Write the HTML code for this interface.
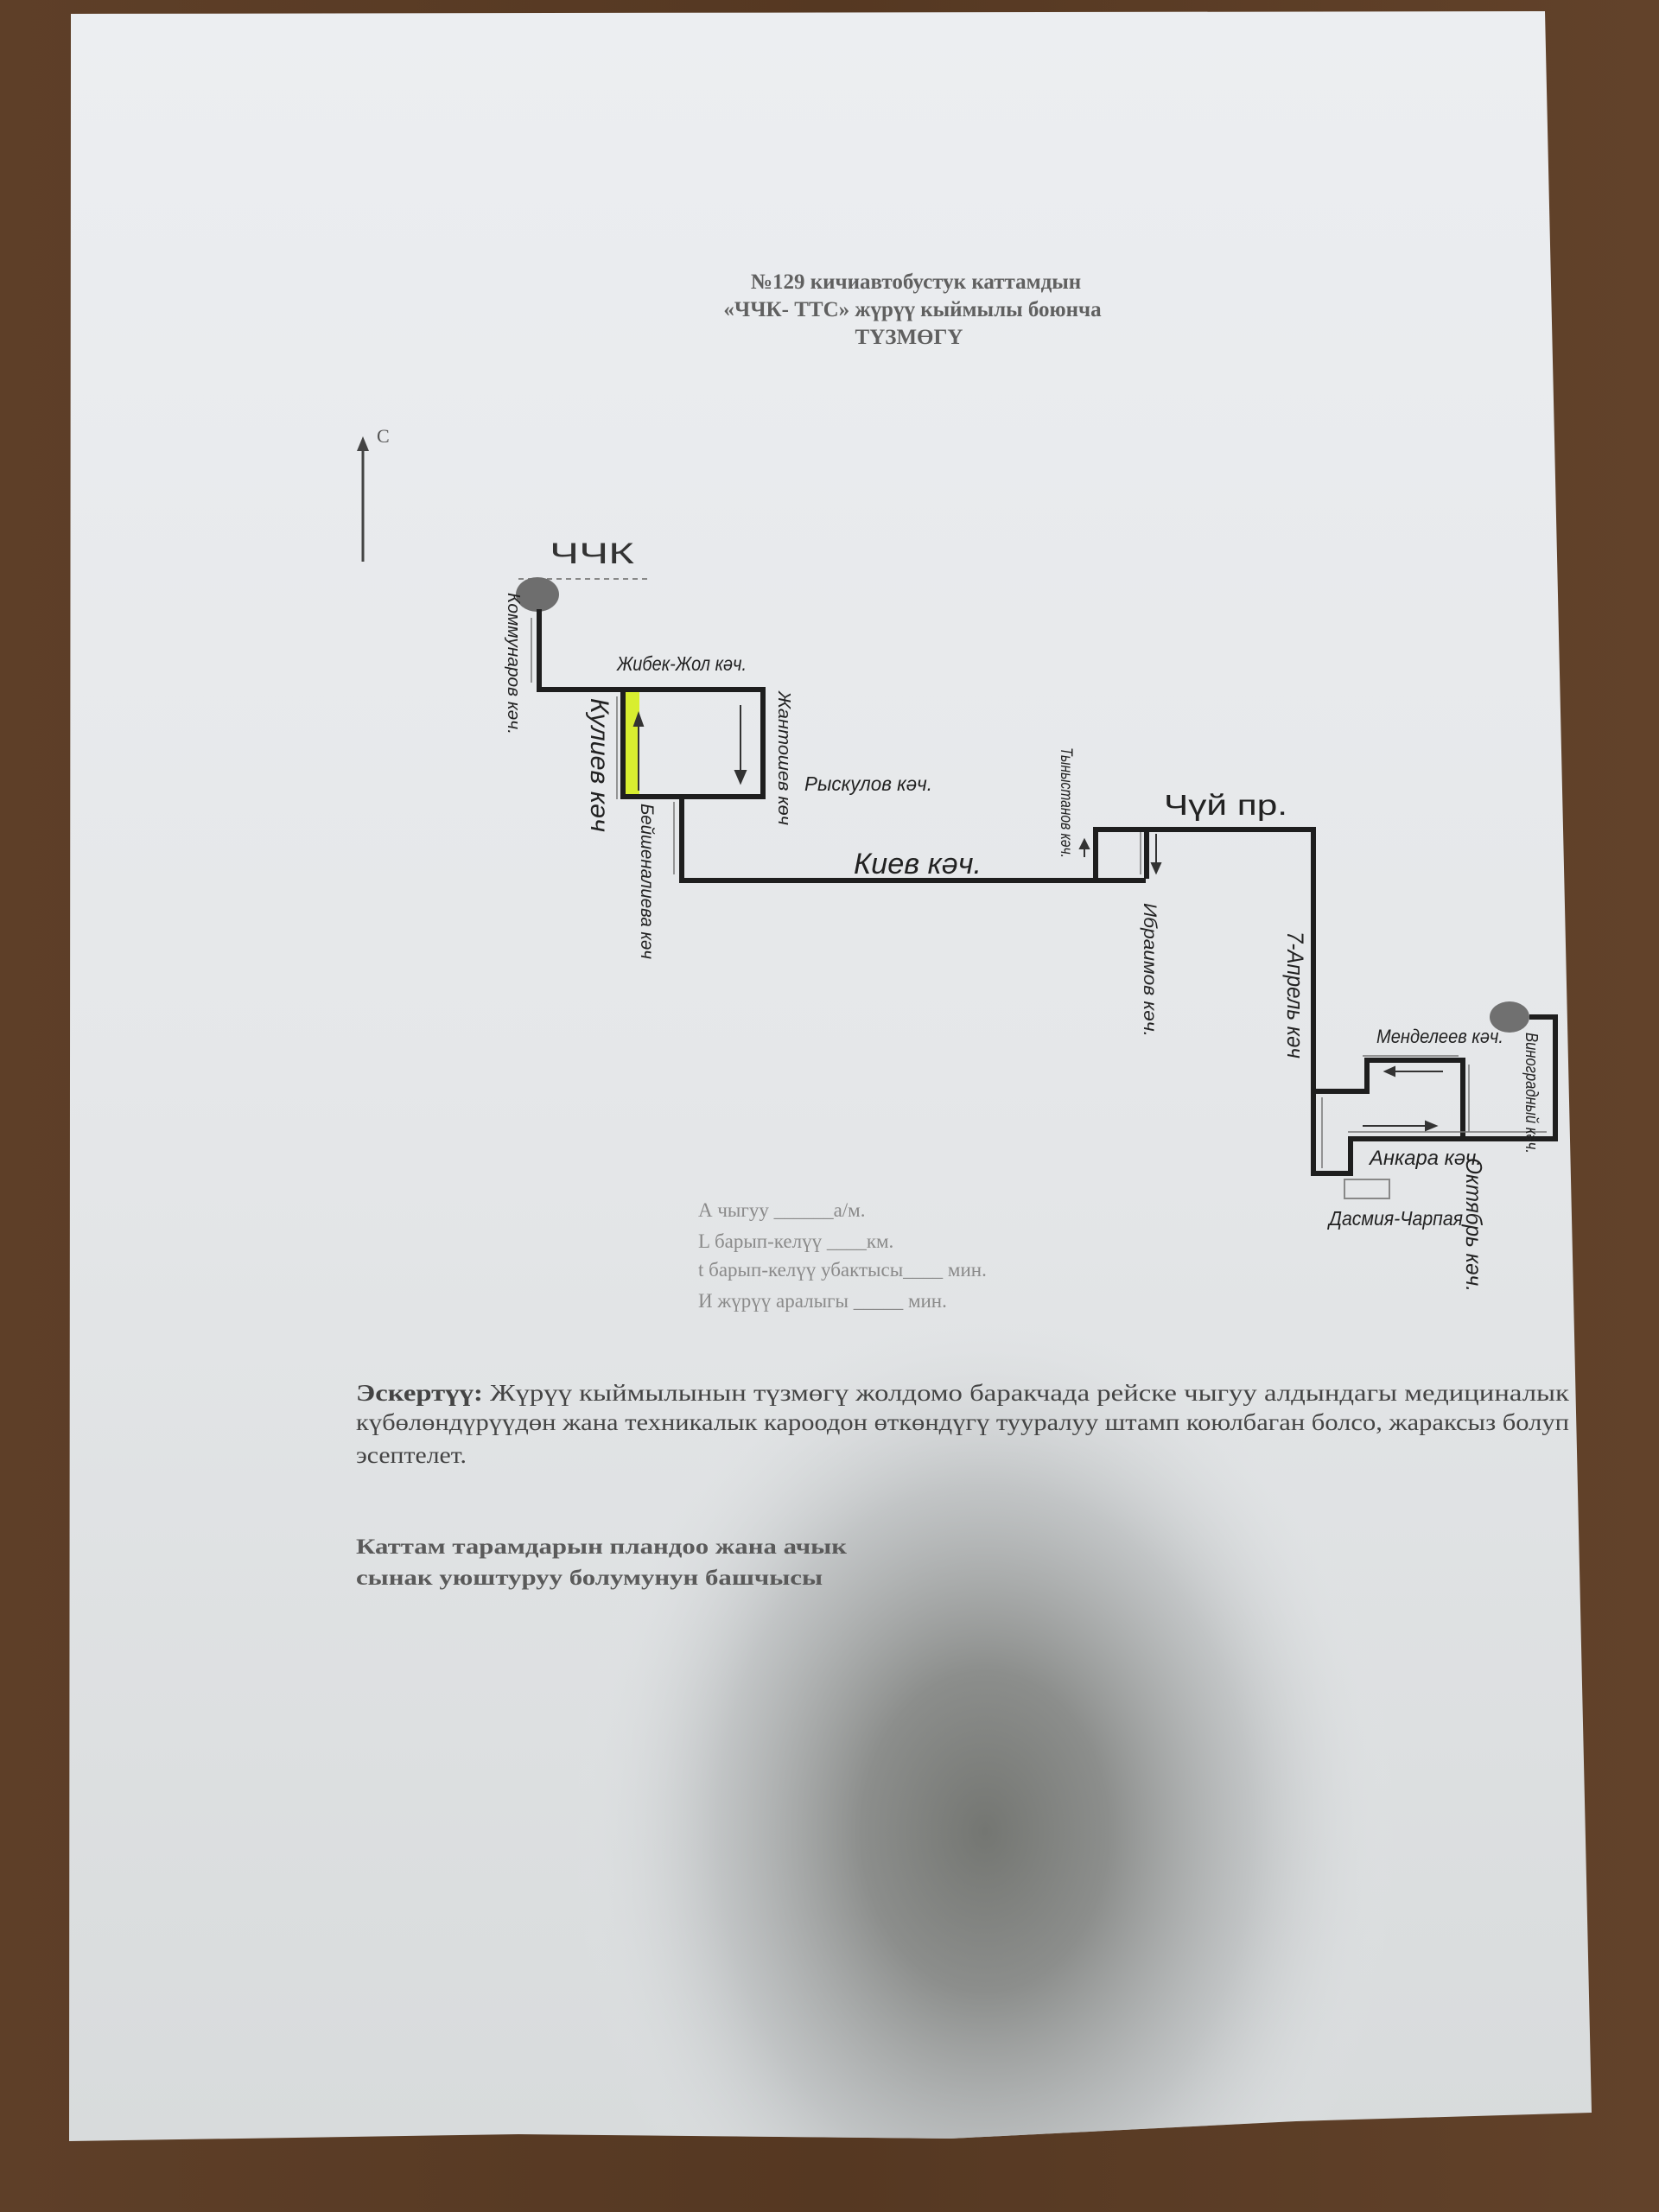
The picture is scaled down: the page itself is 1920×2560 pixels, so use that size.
<!DOCTYPE html>
<html><head><meta charset="utf-8"><style>
html,body{margin:0;padding:0;background:#5a3c26;}
svg{display:block}
</style></head><body>
<svg width="1920" height="2560" viewBox="0 0 1920 2560" xmlns="http://www.w3.org/2000/svg">
<defs>
<linearGradient id="wood" x1="0" y1="0" x2="1" y2="0">
<stop offset="0" stop-color="#5e3f28"/><stop offset="0.5" stop-color="#553822"/><stop offset="1" stop-color="#62422a"/>
</linearGradient>
<radialGradient id="shadow" cx="1140" cy="2120" r="560" gradientUnits="userSpaceOnUse" gradientTransform="translate(1140 2120) scale(0.85 1.1) translate(-1140 -2120)">
<stop offset="0" stop-color="#747672"/><stop offset="0.3" stop-color="#8c8e8c"/><stop offset="0.65" stop-color="#b8bbbc" stop-opacity="0.75"/><stop offset="1" stop-color="#e3e6e8" stop-opacity="0"/>
</radialGradient>
<linearGradient id="paper" x1="0" y1="0" x2="0" y2="1">
<stop offset="0" stop-color="#eceef1"/><stop offset="0.5" stop-color="#e5e7e9"/><stop offset="1" stop-color="#d8dbdc"/>
</linearGradient>
</defs>
<rect width="1920" height="2560" fill="url(#wood)"/>
<polygon points="82,16 1788,13 1842,2445 1500,2455 1100,2475 600,2470 80,2478" fill="url(#paper)"/>
<polygon points="82,16 1788,13 1842,2445 1500,2455 1100,2475 600,2470 80,2478" fill="url(#shadow)"/>

<!-- Title -->
<g font-family="Liberation Serif, serif" font-weight="bold" fill="#606060" text-anchor="middle" font-size="25">
<text x="1060" y="334">№129 кичиавтобустук каттамдын</text>
<text x="1056" y="366">«ЧЧК- ТТС» жүрүү кыймылы боюнча</text>
<text x="1052" y="398">ТҮЗМӨГҮ</text>
</g>

<!-- North arrow -->
<line x1="420" y1="650" x2="420" y2="520" stroke="#444" stroke-width="3"/>
<polygon points="413,522 427,522 420,505" fill="#444"/>
<text x="436" y="512" font-family="Liberation Serif, serif" font-size="22" fill="#555">C</text>

<!-- ЧЧК -->
<text x="636" y="652" font-family="Liberation Sans, sans-serif" font-size="34" fill="#333" textLength="98" lengthAdjust="spacingAndGlyphs">ЧЧК</text>
<line x1="600" y1="670" x2="752" y2="670" stroke="#888" stroke-width="2" stroke-dasharray="6,5"/>
<ellipse cx="622" cy="688" rx="25" ry="20" fill="#6e6e6e"/>

<!-- yellow strip -->
<rect x="724" y="801" width="16" height="121" fill="#d8ee30"/>

<!-- route -->
<g fill="none" stroke="#1e1e1e" stroke-width="6" stroke-linejoin="miter">
<polyline points="624,705 624,798 883,798 883,922 721,922 721,798"/>
<polyline points="789,922 789,1019 1326,1019"/>
<polyline points="1268,1019 1268,960 1520,960 1520,1358 1563,1358 1563,1318 1800,1318 1800,1177 1770,1177"/>
<polyline points="1327,960 1327,1017"/>
<polyline points="1520,1263 1582,1263 1582,1227 1693,1227 1693,1316"/>
</g>
<g fill="none" stroke="#777" stroke-width="1.5">
<line x1="615" y1="715" x2="615" y2="790"/>
<line x1="714" y1="806" x2="714" y2="925"/>
<line x1="780" y1="928" x2="780" y2="1012"/>
<line x1="1320" y1="963" x2="1320" y2="1012"/>
<line x1="1530" y1="1270" x2="1530" y2="1352"/>
<line x1="1577" y1="1222" x2="1688" y2="1222"/>
<line x1="1560" y1="1310" x2="1790" y2="1310"/>
<line x1="1700" y1="1232" x2="1700" y2="1310"/>
</g>
<ellipse cx="1747" cy="1177" rx="23" ry="18" fill="#707070"/>
<rect x="1556" y="1365" width="52" height="22" fill="none" stroke="#888" stroke-width="2"/>

<!-- arrows -->
<g stroke="#333" stroke-width="2" fill="#333">
<line x1="739" y1="915" x2="739" y2="835"/><polygon points="734,840 744,840 739,826"/>
<line x1="857" y1="816" x2="857" y2="898"/><polygon points="851,892 863,892 857,906"/>
<line x1="1255" y1="992" x2="1255" y2="980"/><polygon points="1250,982 1260,982 1255,972"/>
<line x1="1338" y1="965" x2="1338" y2="1002"/><polygon points="1333,999 1343,999 1338,1010"/>
<line x1="1670" y1="1240" x2="1612" y2="1240"/><polygon points="1614,1235 1614,1245 1603,1240"/>
<line x1="1577" y1="1303" x2="1652" y2="1303"/><polygon points="1650,1298 1650,1308 1662,1303"/>
</g>

<!-- labels -->
<g font-family="Liberation Sans, sans-serif" font-style="italic" fill="#222">
<text x="714" y="776" font-size="23" textLength="150" lengthAdjust="spacingAndGlyphs">Жибек-Жол кәч.</text>
<text x="931" y="915" font-size="23" textLength="148" lengthAdjust="spacingAndGlyphs">Рыскулов кәч.</text>
<text x="988" y="1011" font-size="34" textLength="148" lengthAdjust="spacingAndGlyphs">Киев кәч.</text>
<text x="1347" y="943" font-size="33" font-style="normal" textLength="143" lengthAdjust="spacingAndGlyphs">Чүй пр.</text>
<text x="1593" y="1207" font-size="22" textLength="147" lengthAdjust="spacingAndGlyphs">Менделеев кәч.</text>
<text x="1585" y="1348" font-size="24" textLength="130" lengthAdjust="spacingAndGlyphs">Анкара кәч.</text>
<text x="1538" y="1418" font-size="23" textLength="155" lengthAdjust="spacingAndGlyphs">Дасмия-Чарпая</text>
<text transform="translate(588,686) rotate(90)" font-size="20" textLength="164" lengthAdjust="spacingAndGlyphs">Коммунаров кәч.</text>
<text transform="translate(684,808) rotate(90)" font-size="30" textLength="155" lengthAdjust="spacingAndGlyphs">Кулиев кәч</text>
<text transform="translate(901,800) rotate(90)" font-size="20" textLength="155" lengthAdjust="spacingAndGlyphs">Жантошев көч</text>
<text transform="translate(742,930) rotate(90)" font-size="21" textLength="180" lengthAdjust="spacingAndGlyphs">Бейшеналиева кәч</text>
<text transform="translate(1228,865) rotate(90)" font-size="19" textLength="128" lengthAdjust="spacingAndGlyphs">Тыныстанов кәч.</text>
<text transform="translate(1324,1045) rotate(90)" font-size="21" textLength="155" lengthAdjust="spacingAndGlyphs">Ибраимов кәч.</text>
<text transform="translate(1490,1078) rotate(90)" font-size="27" textLength="147" lengthAdjust="spacingAndGlyphs">7-Апрель кәч</text>
<text transform="translate(1766,1195) rotate(90)" font-size="20" textLength="140" lengthAdjust="spacingAndGlyphs">Виноградный кәч.</text>
<text transform="translate(1697,1340) rotate(90)" font-size="26" textLength="155" lengthAdjust="spacingAndGlyphs">Октябрь кәч.</text>
</g>

<!-- parameters -->
<g font-family="Liberation Serif, serif" font-size="23" fill="#8a8a8a">
<text x="808" y="1408">А чыгуу  ______а/м.</text>
<text x="808" y="1444">L барып-келүү ____км.</text>
<text x="808" y="1477">t барып-келүү убактысы____ мин.</text>
<text x="808" y="1513">И жүрүү аралыгы _____   мин.</text>
</g>

<!-- note -->
<g font-family="Liberation Serif, serif" font-size="27" fill="#444">
<text x="412" y="1621" textLength="1404" lengthAdjust="spacingAndGlyphs"><tspan font-weight="bold">Эскертүү:</tspan> Жүрүү кыймылынын түзмөгү жолдомо баракчада рейске чыгуу алдындагы медициналык</text>
<text x="412" y="1655" textLength="1404" lengthAdjust="spacingAndGlyphs">күбөлөндүрүүдөн жана техникалык кароодон өткөндүгү тууралуу штамп коюлбаган болсо, жараксыз болуп</text>
<text x="412" y="1693" textLength="128" lengthAdjust="spacingAndGlyphs">эсептелет.</text>
</g>
<g font-family="Liberation Serif, serif" font-size="25" font-weight="bold" fill="#5a5a5a">
<text x="412" y="1798" textLength="568" lengthAdjust="spacingAndGlyphs">Каттам тарамдарын пландоо жана ачык</text>
<text x="412" y="1834" textLength="540" lengthAdjust="spacingAndGlyphs">сынак уюштуруу болумунун башчысы</text>
</g>
</svg>
</body></html>
